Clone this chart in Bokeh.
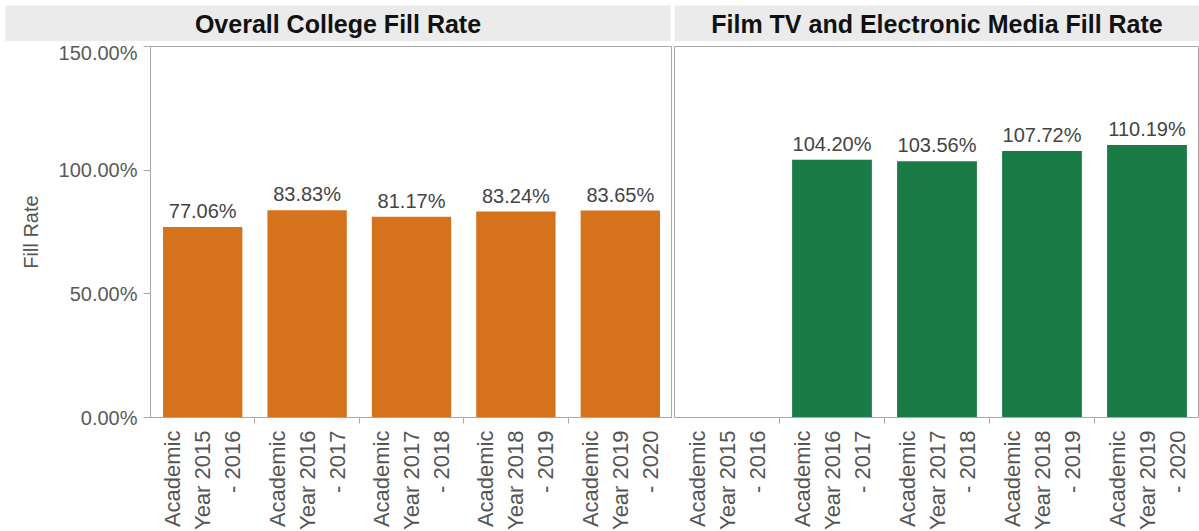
import math
from bokeh.plotting import figure
from bokeh.layouts import column, row
from bokeh.models import (Range1d, FixedTicker, PrintfTickFormatter,
                          ColumnDataSource, Label)
from bokeh.embed import file_html
from bokeh.resources import INLINE
from bokeh.core.properties import value

# ---- data ----
categories = ["Academic\nYear 2015\n- 2016", "Academic\nYear 2016\n- 2017",
              "Academic\nYear 2017\n- 2018", "Academic\nYear 2018\n- 2019",
              "Academic\nYear 2019\n- 2020"]
college_rate = [77.06, 83.83, 81.17, 83.24, 83.65]
film_rate = [None, 104.20, 103.56, 107.72, 110.19]
panel_titles = ["Overall College Fill Rate", "Film TV and Electronic Media Fill Rate"]
y_ticks = [0, 50, 100, 150]

ORANGE = "#d5721b"
GREEN = "#1b7b46"
GRAY = "#a8a8a8"
TXT = "#555555"
FONT = "Liberation Sans"


def header(width, title, left_gap, right_gap):
    h = figure(width=width, height=41, x_range=(0, 1), y_range=(0, 1),
               toolbar_location=None, output_backend="svg",
               min_border_left=left_gap, min_border_right=right_gap,
               min_border_top=5, min_border_bottom=0)
    h.background_fill_color = "#ebebeb"
    h.border_fill_color = "white"
    h.outline_line_color = None
    h.xaxis.visible = False
    h.yaxis.visible = False
    h.grid.visible = False
    h.add_layout(Label(x=0.5, y=0.5, text=title, text_align="center",
                       text_baseline="middle", text_font=FONT,
                       text_font_size="25px", text_font_style="bold",
                       text_color="#111111"))
    return h


def panel(values, color, with_yaxis):
    n = len(categories)
    centers = [i + 0.5 for i in range(n)]
    kw = dict(frame_height=371, toolbar_location=None, output_backend="svg",
              x_range=Range1d(0, n), y_range=Range1d(0, 150),
              min_border_top=5, min_border_right=0, min_border_bottom=0)
    if with_yaxis:
        p = figure(frame_width=522, min_border_left=150, **kw)
    else:
        p = figure(frame_width=525, min_border_left=2, **kw)
    p.outline_line_color = GRAY
    p.outline_line_width = 1
    p.grid.visible = False
    p.background_fill_color = "white"

    xs = [c for c, v in zip(centers, values) if v is not None]
    ys = [v for v in values if v is not None]
    src = ColumnDataSource(dict(x=xs, top=ys, label=["%.2f%%" % v for v in ys]))
    p.vbar(x="x", top="top", width=0.76, source=src, fill_color=color,
           line_color=None)
    p.text(x="x", y="top", text="label", source=src, text_align="center",
           text_baseline="bottom", y_offset=-5, text_font=value(FONT),
           text_font_size="20px", text_color="#444444")

    xa = p.xaxis[0]
    xa.ticker = FixedTicker(ticks=centers, minor_ticks=list(range(1, n)))
    xa.major_label_overrides = {c: lab for c, lab in zip(centers, categories)}
    xa.major_label_orientation = math.pi / 2
    xa.major_label_text_font = FONT
    xa.major_label_text_font_size = "22px"
    xa.major_label_text_color = TXT
    xa.major_tick_line_color = None
    xa.major_tick_out = 0
    xa.major_tick_in = 0
    xa.minor_tick_line_color = GRAY
    xa.minor_tick_out = 6
    xa.minor_tick_in = 0
    xa.axis_line_color = GRAY
    xa.major_label_standoff = 7

    ya = p.yaxis[0]
    ya.ticker = FixedTicker(ticks=y_ticks)
    ya.formatter = PrintfTickFormatter(format="%.2f%%")
    ya.minor_tick_line_color = None
    if with_yaxis:
        ya.axis_label = "Fill Rate"
        ya.axis_label_text_font = FONT
        ya.axis_label_text_font_style = "normal"
        ya.axis_label_text_font_size = "20px"
        ya.axis_label_text_color = TXT
        ya.axis_label_standoff = 14
        ya.major_label_text_font = FONT
        ya.major_label_text_font_size = "20px"
        ya.major_label_text_color = "#5a5a5a"
        ya.major_tick_out = 7
        ya.major_tick_in = 0
        ya.major_tick_line_color = GRAY
        ya.axis_line_color = GRAY
        ya.major_label_standoff = 6
    else:
        ya.visible = False
    return p


left = panel(college_rate, ORANGE, True)
right = panel(film_rate, GREEN, False)

h1 = header(672, panel_titles[0], 5, 2)
h2 = header(527, panel_titles[1], 2, 0)

layout = column(row(h1, h2, spacing=0), row(left, right, spacing=0), spacing=0)

open("out.html", "w").write(file_html(layout, INLINE))
